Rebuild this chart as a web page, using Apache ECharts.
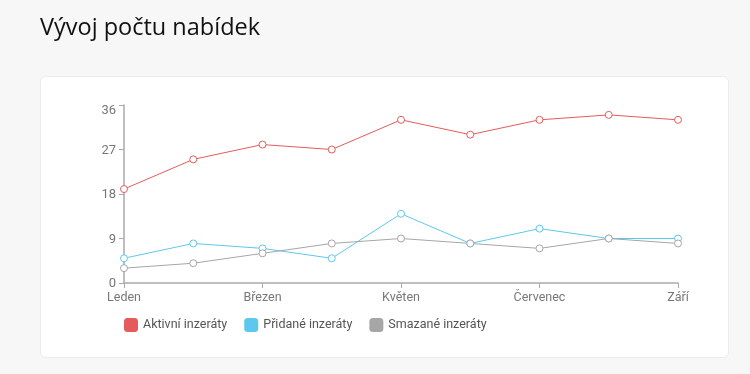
<!DOCTYPE html>
<html>
<head>
<meta charset="utf-8">
<script src="https://cdn.jsdelivr.net/npm/echarts@6/dist/echarts.min.js"></script>
<style>
html,body{margin:0;padding:0;background:#f7f7f7;width:750px;height:374px;overflow:hidden;}
#card{position:absolute;left:40px;top:76px;width:687px;height:280px;background:#fff;border:1px solid #ececec;border-radius:6px;}
#chart{position:absolute;left:0;top:0;width:750px;height:374px;}
</style>
</head>
<body>
<div id="card"></div>
<div id="chart"></div>
<script>
const categories = ['Leden','Únor','Březen','Duben','Květen','Červen','Červenec','Srpen','Září'];
const seriesNames = ['Aktivní inzeráty','Přidané inzeráty','Smazané inzeráty'];
const aktivni = [19, 25, 28, 27, 33, 30, 33, 34, 33];
const pridane = [5, 8, 7, 5, 14, 8, 11, 9, 9];
const smazane = [3, 4, 6, 8, 9, 8, 7, 9, 8];
const colors = ['#e55a5a', '#5cc8ee', '#a6a6a6'];

const chart = echarts.init(document.getElementById('chart'), null, {renderer:'canvas'});
const font = 'Roboto, sans-serif';
function mk(name, data, color){
  return {
    name, type:'line', data,
    symbol:'circle', symbolSize:7,
    lineStyle:{width:1, color},
    itemStyle:{color:'#fff', borderColor:color, borderWidth:1},
    emphasis:{disabled:true}
  };
}
chart.setOption({
  animation:false,
  backgroundColor:'transparent',
  title:{
    text:'Vývoj počtu nabídek',
    left:35, top:11,
    textStyle:{fontFamily:'"Open Sans", sans-serif', fontSize:23.5, fontWeight:'normal', color:'#111'}
  },
  legend:{
    left:119, top:313,
    icon:'roundRect', itemWidth:14, itemHeight:14, itemGap:17,
    textStyle:{fontFamily:font, fontSize:12.5, color:'#555'},
    data: seriesNames.map((n,i)=>({name:n, itemStyle:{color:colors[i], borderWidth:0}}))
  },
  grid:{left:124, right:72, top:105, bottom:91, containLabel:false},
  xAxis:{
    type:'category', data:categories, boundaryGap:false,
    axisLine:{lineStyle:{color:'#aaa', width:1.5}},
    axisTick:{interval:1, length:5, lineStyle:{color:'#aaa'}},
    axisLabel:{interval:1, color:'#777', fontFamily:font, fontSize:12.5, margin:8},
    splitLine:{show:false}
  },
  yAxis:{
    type:'value', min:0, max:36, interval:9,
    axisLine:{show:true, lineStyle:{color:'#aaa', width:1.5}},
    axisTick:{show:true, length:5, lineStyle:{color:'#aaa'}},
    axisLabel:{
      color:'#777', fontFamily:font, fontSize:13, margin:8,
      formatter: function(v){ return v === 36 ? '{top|' + v + '}' : '{n|' + v + '}'; },
      rich:{
        top:{color:'#777', fontFamily:font, fontSize:13, padding:[12,0,0,0]},
        n:{color:'#777', fontFamily:font, fontSize:13, padding:[2,0,0,0]}
      }
    },
    splitLine:{show:false}
  },
  series:[
    mk(seriesNames[0], aktivni, colors[0]),
    mk(seriesNames[1], pridane, colors[1]),
    mk(seriesNames[2], smazane, colors[2])
  ]
});
</script>
</body>
</html>
